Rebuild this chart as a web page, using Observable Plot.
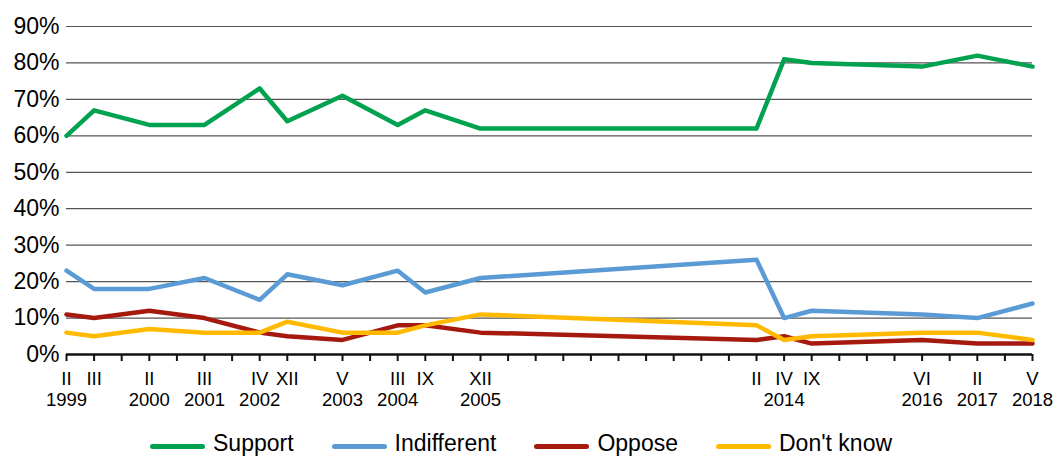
<!DOCTYPE html>
<html>
<head>
<meta charset="utf-8">
<script src="https://cdn.jsdelivr.net/npm/d3@7"></script>
<script src="https://cdn.jsdelivr.net/npm/@observablehq/plot@0.6"></script>
<style>
  html, body { margin: 0; padding: 0; background: #fff; }
  body { width: 1059px; height: 457px; overflow: hidden; font-family: "Liberation Sans", Arial, sans-serif; }
  #legend { position: relative; height: 27px; display: flex; align-items: center; padding-left: 150px; font-size: 23px; color: #000; }
  .item { display: flex; align-items: center; margin-right: 38px; }
  .sw { width: 55px; height: 0; border-top: 5px solid; border-radius: 3px; margin-right: 8px; transform: translateY(3px); }
</style>
</head>
<body>
<div id="chart"></div>
<div id="legend"></div>
<script>
// category slots on the axis (36 slots, only some are surveyed)
const slotCount = 36;
const idx = [0, 1, 3, 5, 7, 8, 10, 12, 13, 15, 25, 26, 27, 31, 33, 35];
const roman = ["II", "III", "II", "III", "IV", "XII", "V", "III", "IX", "XII", "II", "IV", "IX", "VI", "II", "V"];
const yearIdx = [0, 3, 5, 7, 10, 12, 15, 26, 31, 33, 35];
const yearLabel = ["1999", "2000", "2001", "2002", "2003", "2004", "2005", "2014", "2016", "2017", "2018"];

const support     = [60, 67, 63, 63, 73, 64, 71, 63, 67, 62, 62, 81, 80, 79, 82, 79];
const indifferent = [23, 18, 18, 21, 15, 22, 19, 23, 17, 21, 26, 10, 12, 11, 10, 14];
const oppose      = [11, 10, 12, 10, 6, 5, 4, 8, 8, 6, 4, 5, 3, 4, 3, 3];
const dontKnow    = [6, 5, 7, 6, 6, 9, 6, 6, 8, 11, 8, 4, 5, 6, 6, 4];

const yTicks = [0, 10, 20, 30, 40, 50, 60, 70, 80, 90];

const seriesNames = ["Support", "Indifferent", "Oppose", "Don't know"];
const seriesValues = [support, indifferent, oppose, dontKnow];
const seriesColors = ["#00A24F", "#5B9BD5", "#A5190E", "#FFBA00"];

const rows = [];
seriesNames.forEach((name, s) => {
  idx.forEach((x, i) => rows.push({series: name, x, value: seriesValues[s][i]}));
});

const romanMap = new Map(idx.map((x, i) => [x, roman[i]]));
const yearMap = new Map(yearIdx.map((x, i) => [x, yearLabel[i]]));

const chart = Plot.plot({
  width: 1059,
  height: 430,
  marginLeft: 66,
  marginRight: 27,
  marginTop: 26,
  marginBottom: 76,
  style: {fontFamily: '"Liberation Sans", Arial, sans-serif', color: "#000", background: "#fff", overflow: "visible"},
  x: {type: "linear", domain: [0, slotCount - 1], axis: null},
  y: {domain: [0, 90], axis: null},
  marks: [
    Plot.ruleY(yTicks.filter(d => d > 0), {stroke: "#555", strokeWidth: 1.2}),
    Plot.axisY(yTicks, {tickSize: 0, tickPadding: 7, fontSize: 23, tickFormat: d => d + "%", label: null}),
    Plot.ruleY([0], {stroke: "#111", strokeWidth: 2.5}),
    Plot.axisX(d3.range(slotCount), {tickSize: 7, tickFormat: () => "", strokeWidth: 2, stroke: "#111", label: null}),
    Plot.axisX(idx, {tickSize: 0, tickPadding: 17, fontSize: 18.5, tickFormat: d => romanMap.get(d), label: null}),
    Plot.axisX(yearIdx, {tickSize: 0, tickPadding: 38, fontSize: 18.5, tickFormat: d => yearMap.get(d), label: null}),
    ...seriesNames.map((name, s) =>
      Plot.line(rows.filter(r => r.series === name), {
        x: "x", y: "value", stroke: seriesColors[s], strokeWidth: 4.5,
        strokeLinejoin: "round", strokeLinecap: "round"
      })
    )
  ]
});
document.getElementById("chart").appendChild(chart);

const legend = document.getElementById("legend");
seriesNames.forEach((name, s) => {
  const item = document.createElement("div");
  item.className = "item";
  const sw = document.createElement("div");
  sw.className = "sw";
  sw.style.borderColor = seriesColors[s];
  const t = document.createElement("span");
  t.textContent = name;
  item.appendChild(sw);
  item.appendChild(t);
  legend.appendChild(item);
});
</script>
</body>
</html>
